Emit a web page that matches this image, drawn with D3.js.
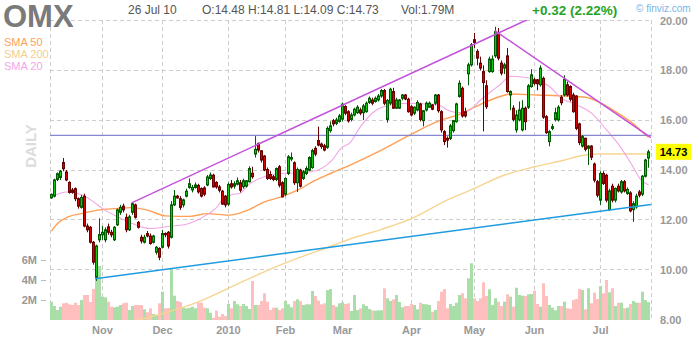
<!DOCTYPE html>
<html>
<head>
<meta charset="utf-8">
<script src="https://cdn.jsdelivr.net/npm/d3@7"></script>
<style>
  body { margin:0; background:#fff; }
  svg { display:block; font-family: "Liberation Sans", Arial, sans-serif; }
</style>
</head>
<body>
<svg id="chart" width="700" height="340"></svg>
<script>
// daily OHLC, 8 Oct 2009 .. 26 Jul 2010
var opens = [
  12.88,12.95,13.62,13.70,14.30,13.92,13.50,13.20,13.25,12.85, 12.50,12.95,11.75,11.70,11.10,9.70,11.20,11.40,11.20,11.72,
  11.50,11.20,11.80,12.30,12.55,12.10,11.60,12.30,12.60,11.90, 11.30,11.10,11.45,11.35,11.10,10.70,10.85,10.90,11.45,11.50,
  11.30,12.60,12.95,12.85,12.60,12.95,13.30,13.20,13.30,13.38, 13.26,13.28,13.40,13.66,13.79,13.50,13.32,13.15,12.95,12.63,
  13.45,13.35,13.43,13.49,13.33,13.35,13.53,13.87,14.64,15.07, 14.77,14.56,14.02,13.82,13.73,13.62,14.13,13.49,13.03,13.86,
  14.44,14.29,13.49,14.00,13.66,13.86,13.99,14.10,14.87,15.18, 15.04,14.97,14.91,15.58,15.98,15.87,15.95,16.04,16.55,16.34,
  16.03,16.21,16.30,16.41,16.30,16.34,16.71,16.81,16.75,16.81, 16.97,17.19,16.03,16.68,17.15,16.48,16.48,16.88,17.01,16.84,
  16.54,16.28,16.41,16.65,15.98,16.41,16.52,16.61,16.68,17.01, 16.34,15.54,15.27,15.27,15.58,15.94,16.95,17.28,16.34,17.86,
  18.22,19.23,18.76,18.29,17.95,17.38,17.95,17.95,18.58,19.50, 18.29,18.09,18.58,17.01,16.48,15.61,16.01,15.61,16.48,16.52,
  17.35,17.62,17.62,17.42,17.68,16.14,15.14,15.67,16.03,16.01, 16.92,17.01,17.42,17.35,17.01,16.97,15.85,14.96,15.27,14.87,
  14.96,14.24,13.53,12.79,13.86,13.79,12.41,13.35,12.79,13.35, 13.12,13.53,13.06,13.08,12.41,12.52,13.12,13.03,13.75,14.48
];
var highs = [
  13.06,13.65,13.90,14.00,14.48,14.00,13.55,13.28,13.30,12.90, 13.00,13.05,11.85,11.75,11.15,11.00,12.06,11.75,11.70,11.85,
  11.60,11.75,12.45,12.60,12.65,12.25,12.20,12.70,12.65,11.95, 11.40,11.40,11.55,11.45,11.40,10.95,10.90,11.60,11.50,11.55,
  12.75,13.20,13.00,12.95,12.85,13.25,13.66,13.40,13.50,13.45, 13.30,13.35,13.80,13.90,13.85,13.55,13.40,13.20,13.00,13.50,
  13.60,13.55,13.70,13.60,13.65,13.60,14.15,14.13,15.36,15.10, 14.80,14.60,14.10,13.95,13.80,14.10,14.20,13.55,13.70,14.60,
  14.70,14.35,14.10,14.05,14.00,14.15,14.55,14.85,14.95,15.74, 15.10,15.05,15.75,15.95,16.05,16.10,16.25,16.71,16.60,16.40,
  16.30,16.50,16.60,16.50,16.65,16.75,16.95,16.90,16.95,17.05, 17.25,17.25,16.85,17.30,17.30,16.90,16.85,17.05,17.05,16.90,
  16.60,16.55,16.80,16.70,16.40,16.75,16.75,16.65,17.05,17.05, 16.40,15.60,15.35,15.85,16.00,16.70,17.60,17.35,16.50,18.30,
  19.10,19.50,18.85,18.55,18.20,17.60,18.55,18.60,19.75,19.70, 18.40,18.30,18.90,17.20,16.60,16.40,16.75,16.80,16.55,17.45,
  18.05,17.70,17.65,18.20,17.75,16.20,15.60,15.85,16.50,16.60, 17.00,17.80,17.55,17.40,17.10,17.00,15.90,15.40,15.30,15.00,
  15.00,14.30,13.60,13.95,13.95,13.85,13.25,13.45,13.30,13.45, 13.60,13.60,13.30,13.15,12.75,13.05,13.20,13.80,14.45,14.81
];
var lows = [
  12.85,12.90,13.55,13.60,13.95,13.55,13.05,13.05,12.75,12.45, 12.45,11.70,11.50,11.05,10.20,9.55,11.10,11.20,11.10,11.40,
  11.30,11.15,11.75,12.20,12.30,11.50,11.55,12.20,12.05,11.65, 11.05,11.05,11.30,11.00,11.05,10.60,10.38,10.85,11.30,10.85,
  11.25,12.55,12.85,12.40,12.50,12.90,13.25,13.10,13.25,13.05, 12.90,12.95,13.35,13.60,13.30,13.25,13.10,12.60,12.50,12.55,
  13.25,13.25,13.38,13.10,13.25,13.30,13.50,13.65,14.50,14.70, 14.30,13.95,13.60,13.60,13.55,13.55,13.30,12.90,12.95,13.80,
  14.35,13.40,13.12,13.30,13.60,13.80,13.95,14.05,14.55,14.95, 14.85,14.75,14.85,15.50,15.75,15.80,15.90,15.95,16.20,15.90,
  15.95,16.15,16.25,16.20,16.00,16.30,16.65,16.60,16.70,16.75, 16.90,16.60,15.90,16.60,16.45,16.45,16.45,16.80,16.80,16.30,
  16.15,16.20,16.35,15.95,15.75,16.35,16.50,16.40,16.60,16.30, 15.50,15.00,14.90,15.20,15.50,15.90,16.90,16.10,16.10,17.40,
  18.15,18.90,18.20,18.00,15.55,16.45,17.90,17.90,18.50,18.40, 17.80,17.85,17.10,16.40,15.95,15.50,15.95,15.55,15.60,16.45,
  17.30,17.40,17.20,17.35,16.05,15.45,14.95,15.60,15.95,15.95, 16.60,16.95,16.95,16.75,16.30,15.60,15.00,14.90,14.75,14.20,
  14.40,13.50,12.90,12.60,13.40,12.70,12.35,12.70,12.70,13.10, 13.05,13.10,13.00,12.30,11.92,12.45,12.90,12.95,13.70,14.09
];
var closes = [
  13.02,13.60,13.85,13.95,14.05,13.60,13.10,13.10,12.85,12.55, 12.90,11.75,11.60,11.10,10.30,10.95,11.41,11.50,11.60,11.50,
  11.40,11.70,12.40,12.50,12.40,11.60,12.12,12.65,12.10,11.70, 11.15,11.30,11.35,11.05,11.35,10.90,10.50,11.45,11.40,10.95,
  12.60,12.95,12.88,12.50,12.80,13.15,13.45,13.30,13.40,13.12, 12.95,13.03,13.72,13.80,13.32,13.32,13.19,12.63,12.60,13.42,
  13.32,13.45,13.57,13.19,13.57,13.57,14.06,13.73,14.83,14.80, 14.40,14.00,13.66,13.66,13.62,14.06,13.39,12.92,13.66,14.53,
  14.50,13.49,14.02,13.35,13.93,14.06,14.50,14.78,14.64,15.00, 14.94,14.80,15.67,15.77,15.85,16.01,16.17,16.64,16.28,15.97,
  16.21,16.44,16.52,16.28,16.57,16.68,16.88,16.68,16.88,16.97, 17.19,16.68,16.79,17.24,16.48,16.81,16.81,17.01,16.85,16.34,
  16.21,16.52,16.71,16.03,16.38,16.68,16.68,16.44,17.01,16.38, 15.61,15.14,15.20,15.77,15.98,16.65,17.48,16.17,16.17,18.22,
  19.03,19.12,18.49,18.09,17.51,16.54,18.45,18.45,19.56,18.49, 17.89,18.22,17.15,17.15,16.03,16.21,16.41,16.48,15.94,17.38,
  17.82,17.48,17.46,18.09,16.12,15.50,15.54,15.74,16.30,16.52, 16.70,17.64,17.01,16.84,16.34,15.67,15.10,15.34,14.83,14.96,
  14.51,13.59,12.99,13.86,13.46,12.79,13.16,12.79,13.26,13.16, 13.53,13.16,13.22,12.36,12.65,12.95,12.99,13.75,14.40,14.73
];
// volume in millions
var volumes = [
  1.83,1.40,1.00,1.33,1.67,1.73,1.57,1.50,1.73,1.50, 2.00,2.50,2.50,1.80,3.10,5.50,5.40,2.33,2.27,1.83,
  1.33,1.27,1.33,1.50,1.67,1.73,1.00,1.40,1.50,1.50, 1.50,1.07,0.77,1.17,0.60,0.50,1.67,2.83,1.17,1.20,
  5.10,2.43,1.90,1.80,1.23,1.17,1.23,1.33,1.17,1.73, 1.73,1.23,1.17,0.73,0.23,0.93,0.33,0.60,0.40,1.60,
  1.17,1.90,1.57,1.40,1.60,1.40,1.10,3.90,1.50,1.50, 1.90,2.67,1.83,1.00,1.23,1.23,1.00,1.17,1.90,1.57,
  1.27,1.90,2.07,1.90,1.50,1.57,1.57,2.90,2.40,1.93, 1.57,1.67,3.00,3.10,1.50,1.33,1.67,1.77,1.60,1.67,
  0.90,2.50,1.00,1.17,1.57,1.40,1.10,0.97,0.93,0.97, 0.97,3.17,2.17,1.90,2.07,2.50,1.80,1.27,1.40,1.40,
  1.60,1.50,1.07,1.73,1.60,1.57,1.50,0.83,1.00,1.90, 2.83,3.10,1.17,1.60,1.40,1.73,2.50,2.67,2.17,4.17,
  5.67,2.17,1.90,2.17,3.77,2.40,3.07,1.50,2.17,1.83, 1.40,1.83,2.57,2.33,1.33,3.23,2.50,2.43,2.40,2.57,
  2.60,2.93,1.60,1.33,3.67,2.40,1.50,1.23,0.97,1.40, 1.40,1.83,1.17,1.13,2.00,2.10,3.10,3.00,1.07,3.17,
  1.67,2.73,2.10,3.40,2.67,4.00,2.77,3.17,1.40,1.73, 1.73,1.17,1.23,1.60,1.90,1.73,1.73,2.83,2.00,1.79
];

// moving averages, read as (day index, value) points
var sma50Idx = [0,2,5.5,10,15.5,21,26.5,32,38,46,52,59,65.5,71,76.5,82,88,93,99.5,110,120,130,135.5,141,149.5,153,162,171,178,182,188,193,197.5,199];
var sma50Val = [11.55,11.85,12.12,12.25,12.39,12.45,12.49,12.39,12.16,12.14,12.25,12.19,12.39,12.72,12.92,13.19,13.59,13.86,14.2,14.8,15.44,16.01,16.21,16.52,16.95,17.05,17.01,16.97,16.92,16.75,16.34,15.94,15.47,15.31];
var sma200Idx = [26,36,50,61,72,83,94,99,110,120,132,141,149.5,161,171,176,182,199];
var sma200Val = [7.9,8.2,8.76,9.37,9.97,10.5,10.98,11.21,11.62,12.05,12.8,13.26,13.73,14.13,14.4,14.56,14.64,14.64];
var sma20Idx = [0,5,10.5,14,17,22,27,33,39.5,45,48.5,51.5,55,57,59.5,63,65.5,71,76.5,82,86.5,90,93.5,96.5,99.5,103,107.5,113,119,124.5,129,132,135.5,139,143,146.5,149.5,153,157.5,163,166,170,174.5,180,185,189.5,193,196.5,199];
var sma20Val = [12.92,13.12,12.99,12.72,12.45,12.12,11.85,11.65,11.74,11.82,11.98,12.19,12.49,12.82,12.99,13.08,13.39,13.73,13.86,13.89,13.93,14.06,14.4,14.87,15.1,15.74,16.34,16.61,16.68,16.65,16.61,16.41,16.3,16.38,16.81,17.15,17.42,17.76,17.72,17.55,17.35,16.88,16.65,16.28,15.61,14.95,14.3,13.6,13.4];

// drawn trendlines: [start index, end index], [start price, end price]
var upTrendIdx = [26.7, 158.5], upTrendVal = [12.68, 20.03];
var downTrendIdx = [147.8, 199.8], downTrendVal = [19.59, 15.30];
var supportIdx = [14.5, 199.8], supportVal = [9.64, 12.62];
var resistanceLevel = 15.39;

// axis ticks
var monthIdx = [17, 37, 59, 78, 97, 120, 141, 161, 183];
var monthLabels = ["Nov", "Dec", "2010", "Feb", "Mar", "Apr", "May", "Jun", "Jul"];
var priceTicks = [8, 10, 12, 14, 16, 18, 20];
var volTicks = [2, 4, 6];
var volLabels = ["2M", "4M", "6M"];

var svg = d3.select("#chart");
// plot box (don't use "top" as a global, it's window.top)
var plotL = 50, plotR = 651, plotT = 20, plotB = 320;

var x = d3.scaleLinear().domain([0, 199]).range([51.5, 648.5]);
var y = d3.scaleLinear().domain([8, 20]).range([319.5, 20.5]);
var yVol = d3.scaleLinear().domain([0, 6]).range([320, 260]);

svg.append("defs").append("clipPath").attr("id", "plot")
  .append("rect").attr("x", plotL).attr("y", plotT).attr("width", plotR - plotL).attr("height", plotB - plotT);

// grid
var grid = svg.append("g").attr("stroke", "#cdcdcd").attr("stroke-dasharray", "4,3").attr("stroke-width", 1);
priceTicks.forEach(function(p){
  var gy = Math.floor(y(p)) + 0.5;
  grid.append("line").attr("x1", plotL).attr("x2", plotR).attr("y1", gy).attr("y2", gy);
});
monthIdx.forEach(function(i){
  grid.append("line").attr("x1", x(i)).attr("x2", x(i)).attr("y1", plotT).attr("y2", plotB);
});
grid.append("line").attr("x1", plotL + 0.5).attr("x2", plotL + 0.5).attr("y1", plotT).attr("y2", plotB);
grid.append("line").attr("x1", plotR + 0.5).attr("x2", plotR + 0.5).attr("y1", plotT).attr("y2", plotB);

var days = d3.range(closes.length);
function isUp(i){ return closes[i] >= opens[i]; }

// volume
svg.append("g").selectAll("rect").data(days).enter().append("rect")
  .attr("x", function(i){ return x(i) - 1.5; })
  .attr("width", 3)
  .attr("y", function(i){ return yVol(volumes[i]); })
  .attr("height", function(i){ return yVol(0) - yVol(volumes[i]); })
  .attr("fill", function(i){ return isUp(i) ? "#a9dea9" : "#ffbfbf"; });

var plot = svg.append("g").attr("clip-path", "url(#plot)");

function zip(a, b){ return a.map(function(d, k){ return [d, b[k]]; }); }
var smooth = d3.line().x(function(d){ return x(d[0]); }).y(function(d){ return y(d[1]); }).curve(d3.curveMonotoneX);
var straight = d3.line().x(function(d){ return x(d[0]); }).y(function(d){ return y(d[1]); });

plot.append("path").attr("d", smooth(zip(sma200Idx, sma200Val))).attr("fill", "none").attr("stroke", "#f6d591").attr("stroke-width", 1.4);
plot.append("path").attr("d", smooth(zip(sma50Idx, sma50Val))).attr("fill", "none").attr("stroke", "#ff9f55").attr("stroke-width", 1.4);
plot.append("path").attr("d", smooth(zip(sma20Idx, sma20Val))).attr("fill", "none").attr("stroke", "#f2a6e6").attr("stroke-width", 1.1);

plot.append("line").attr("x1", plotL).attr("x2", plotR)
  .attr("y1", y(resistanceLevel)).attr("y2", y(resistanceLevel))
  .attr("stroke", "#8787cf").attr("stroke-width", 1.3);

// candles
var candles = plot.append("g").selectAll("g").data(days).enter().append("g");
candles.append("line")
  .attr("x1", function(i){ return x(i); }).attr("x2", function(i){ return x(i); })
  .attr("y1", function(i){ return y(highs[i]); }).attr("y2", function(i){ return y(lows[i]); })
  .attr("stroke", function(i){ return isUp(i) ? "#005a00" : "#6a0000"; });
candles.append("rect")
  .attr("x", function(i){ return x(i) - 1; })
  .attr("width", 2)
  .attr("y", function(i){ return y(Math.max(opens[i], closes[i])); })
  .attr("height", function(i){ return Math.max(1, Math.abs(y(opens[i]) - y(closes[i]))); })
  .attr("fill", function(i){ return isUp(i) ? "#10c810" : "#d80000"; })
  .attr("stroke", function(i){ return isUp(i) ? "#005a00" : "#6a0000"; })
  .attr("stroke-width", 1);

// trendlines
plot.append("path").attr("d", straight(zip(upTrendIdx, upTrendVal))).attr("stroke", "#c452dc").attr("stroke-width", 1.5).attr("fill", "none");
plot.append("path").attr("d", straight(zip(downTrendIdx, downTrendVal))).attr("stroke", "#c452dc").attr("stroke-width", 1.5).attr("fill", "none");
plot.append("path").attr("d", straight(zip(supportIdx, supportVal))).attr("stroke", "#1f9be0").attr("stroke-width", 1.5).attr("fill", "none");

// right price axis
svg.append("g").selectAll("text").data(priceTicks).enter().append("text")
  .attr("x", 660).attr("y", function(p){ return y(p) + 4; })
  .attr("font-size", 11).attr("font-weight", "bold").attr("fill", "#999")
  .text(function(p){ return p.toFixed(2); });

var last = closes[closes.length - 1];
svg.append("rect").attr("x", 656).attr("y", y(last) - 8).attr("width", 35).attr("height", 16).attr("fill", "#ffff00");
svg.append("text").attr("x", 673.5).attr("y", y(last) + 4).attr("text-anchor", "middle")
  .attr("font-size", 11).attr("font-weight", "bold").attr("fill", "#000").text(last.toFixed(2));

// month labels
svg.append("g").selectAll("text").data(monthIdx).enter().append("text")
  .attr("x", function(i){ return x(i); }).attr("y", 334).attr("text-anchor", "middle")
  .attr("font-size", 11).attr("font-weight", "bold").attr("fill", "#999")
  .text(function(i, k){ return monthLabels[k]; });

// volume axis
var vAxis = svg.append("g");
volTicks.forEach(function(v, k){
  vAxis.append("line").attr("x1", 41).attr("x2", 46).attr("y1", yVol(v) + 0.5).attr("y2", yVol(v) + 0.5).attr("stroke", "#bbb");
  vAxis.append("text").attr("x", 37).attr("y", yVol(v) + 4).attr("text-anchor", "end")
    .attr("font-size", 11).attr("font-weight", "bold").attr("fill", "#999").text(volLabels[k]);
});

// header
svg.append("text").attr("x", 3).attr("y", 27).attr("font-size", 31).attr("font-weight", "bold").attr("fill", "#7a7a7a").text("OMX");
svg.append("text").attr("x", 128).attr("y", 14).attr("font-size", 12).attr("fill", "#555").text("26 Jul 10");
svg.append("text").attr("x", 202).attr("y", 14).attr("font-size", 12).attr("fill", "#555").text("O:14.48 H:14.81 L:14.09 C:14.73");
svg.append("text").attr("x", 401).attr("y", 14).attr("font-size", 12).attr("fill", "#555").text("Vol:1.79M");
svg.append("text").attr("x", 532).attr("y", 15).attr("font-size", 13.5).attr("font-weight", "bold").attr("fill", "#26a326").text("+0.32 (2.22%)");
svg.append("text").attr("x", 636).attr("y", 12).attr("font-size", 10).attr("fill", "#7ab4e6").text("\u00a9 finviz.com");

svg.append("text").attr("x", 4).attr("y", 46).attr("font-size", 11).attr("fill", "#ff9f55").text("SMA 50");
svg.append("text").attr("x", 4).attr("y", 58).attr("font-size", 11).attr("fill", "#f3cf8e").text("SMA 200");
svg.append("text").attr("x", 4).attr("y", 70).attr("font-size", 11).attr("fill", "#f2a6e6").text("SMA 20");

svg.append("text").attr("transform", "translate(36,146) rotate(-90)").attr("text-anchor", "middle")
  .attr("font-size", 15).attr("font-weight", "bold").attr("fill", "#dcdcdc").text("DAILY");
</script>
</body>
</html>
